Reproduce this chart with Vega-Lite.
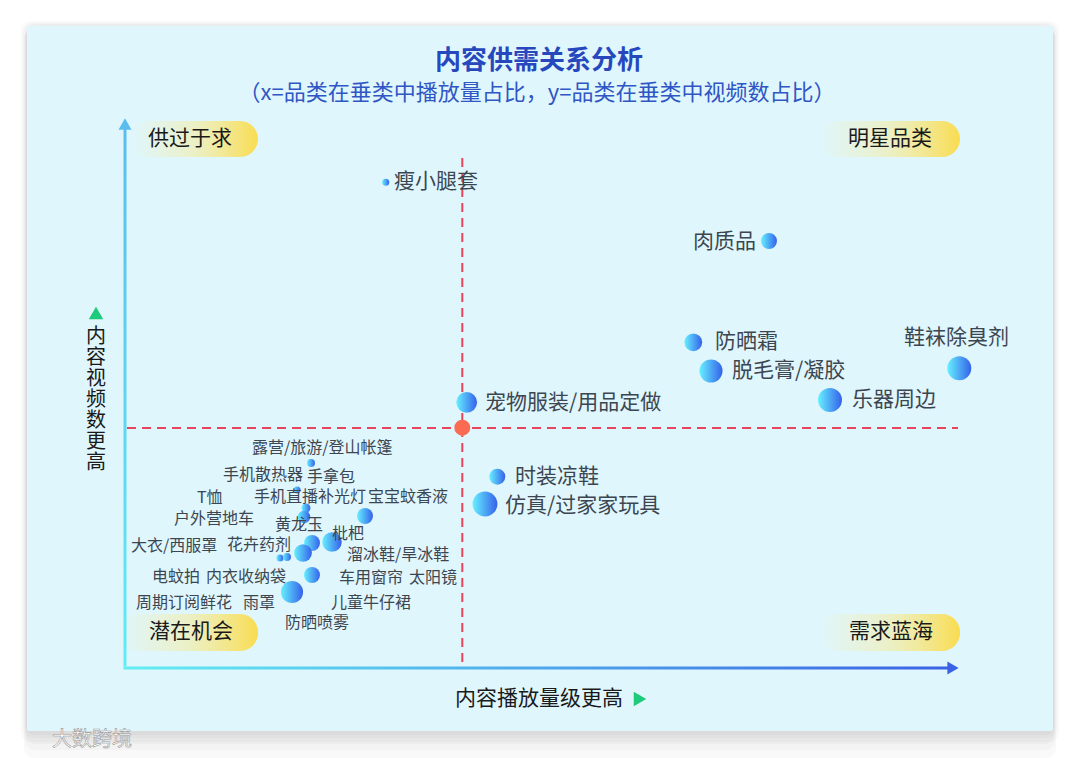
{
  "$schema": "https://vega.github.io/schema/vega-lite/v6.json",
  "width": 1080,
  "height": 758,
  "autosize": {"type": "fit", "contains": "padding"},
  "padding": 0,
  "background": "#ffffff",
  "config": {"view": {"stroke": null}, "font": "Noto Sans CJK SC"},
  "datasets": {
    "shadow": [
      {"x": -10.4, "x2": 93.4, "y": 64.7, "y2": -7.4},
      {"x": -10.2, "x2": 93.2, "y": 64.5, "y2": -7.0},
      {"x": -10.0, "x2": 93.0, "y": 64.4, "y2": -6.7},
      {"x": -10.1, "x2": 93.1, "y": 64.0, "y2": -9.0},
      {"x": -10.0, "x2": 93.0, "y": 64.0, "y2": -8.2},
      {"x": -9.9, "x2": 92.9, "y": 64.0, "y2": -7.6}
    ],
    "panel": [{"x": -9.8, "x2": 92.8, "y": 64.2, "y2": -6.3}],
    "pills": [
      {"name": "供过于求", "x": 0.5, "x2": 13.3, "y": 54.7, "y2": 51.1, "lx": 2.3, "ly": 52.9},
      {"name": "明星品类", "x": 69.3, "x2": 83.5, "y": 54.7, "y2": 51.1, "lx": 72.3, "ly": 52.9},
      {"name": "潜在机会", "x": -0.7, "x2": 13.3, "y": 5.4, "y2": 1.7, "lx": 2.4, "ly": 3.6},
      {"name": "需求蓝海", "x": 69.3, "x2": 83.5, "y": 5.4, "y2": 1.7, "lx": 72.4, "ly": 3.6}
    ],
    "bubbles": [
      {"name": "瘦小腿套", "x": 26.07, "y": 48.57, "r": 4, "lx": 26.9, "ly": 48.6},
      {"name": "肉质品", "x": 64.4, "y": 42.7, "r": 9, "lx": 56.8, "ly": 42.6},
      {"name": "防晒霜", "x": 56.83, "y": 32.57, "r": 10, "lx": 59.0, "ly": 32.6},
      {"name": "脱毛膏/凝胶", "x": 58.6, "y": 29.7, "r": 13, "lx": 60.7, "ly": 29.7},
      {"name": "鞋袜除臭剂", "x": 83.43, "y": 29.97, "r": 13.5, "lx": 77.9, "ly": 33.0},
      {"name": "乐器周边", "x": 70.5, "y": 26.8, "r": 13.5, "lx": 72.7, "ly": 26.8},
      {"name": "宠物服装/用品定做", "x": 34.17, "y": 26.57, "r": 11.7, "lx": 36.0, "ly": 26.5},
      {"name": "时装凉鞋", "x": 37.23, "y": 19.13, "r": 9, "lx": 39.0, "ly": 19.1},
      {"name": "仿真/过家家玩具", "x": 36.0, "y": 16.4, "r": 14, "lx": 38.0, "ly": 16.2},
      {"name": "露营/旅游/登山帐篷", "x": 18.6, "y": 20.5, "r": 4.5, "lx": 12.7, "ly": 22.0},
      {"name": "手机散热器", "x": 17.2, "y": 17.8, "r": 4, "lx": 9.8, "ly": 19.3},
      {"name": "手拿包", "x": 17.2, "y": 17.8, "r": 3, "lx": 18.2, "ly": 19.1},
      {"name": "T恤", "x": 18.1, "y": 16.0, "r": 5, "lx": 7.2, "ly": 17.0},
      {"name": "手机直播补光灯", "x": 17.9, "y": 15.1, "r": 7, "lx": 12.9, "ly": 17.1},
      {"name": "宝宝蚊香液", "x": 24.0, "y": 15.2, "r": 9, "lx": 24.3, "ly": 17.1},
      {"name": "户外营地车", "x": 18.0, "y": 15.4, "r": 4, "lx": 4.9, "ly": 14.9},
      {"name": "黄龙玉", "x": 18.7, "y": 12.5, "r": 9, "lx": 15.0, "ly": 14.3},
      {"name": "枇杷", "x": 20.7, "y": 12.6, "r": 11, "lx": 20.7, "ly": 13.4},
      {"name": "大衣/西服罩", "x": 15.5, "y": 11.0, "r": 4, "lx": 0.6, "ly": 12.2},
      {"name": "花卉药剂", "x": 16.2, "y": 11.1, "r": 4.5, "lx": 10.2, "ly": 12.3},
      {"name": "溜冰鞋/旱冰鞋", "x": 20.7, "y": 12.6, "r": 7, "lx": 22.2, "ly": 11.3},
      {"name": "电蚊拍", "x": 17.8, "y": 11.5, "r": 10, "lx": 2.7, "ly": 9.1},
      {"name": "内衣收纳袋", "x": 18.7, "y": 9.3, "r": 9, "lx": 8.1, "ly": 9.1},
      {"name": "车用窗帘", "x": 18.7, "y": 9.3, "r": 6, "lx": 21.4, "ly": 9.0},
      {"name": "太阳镜", "x": 18.7, "y": 12.5, "r": 6, "lx": 28.4, "ly": 9.0},
      {"name": "周期订阅鲜花", "x": 16.7, "y": 7.6, "r": 12.5, "lx": 1.1, "ly": 6.5},
      {"name": "雨罩", "x": 16.7, "y": 7.6, "r": 8, "lx": 11.8, "ly": 6.5},
      {"name": "儿童牛仔裙", "x": 16.7, "y": 7.6, "r": 7, "lx": 20.6, "ly": 6.5},
      {"name": "防晒喷雾", "x": 16.7, "y": 7.6, "r": 6, "lx": 16.0, "ly": 4.5}
    ]
  },
  "layer": [
    {
      "data": {"name": "shadow"},
      "mark": {"type": "rect", "fill": "#000000", "opacity": 0.022, "cornerRadius": 10},
      "encoding": {
        "x": {"field": "x", "type": "quantitative", "scale": {"domain": [-12.5, 95.5], "nice": false, "zero": false}, "axis": null},
        "x2": {"field": "x2"},
        "y": {"field": "y", "type": "quantitative", "scale": {"domain": [-9, 66.8], "nice": false, "zero": false}, "axis": null},
        "y2": {"field": "y2"}
      }
    },
    {
      "data": {"name": "panel"},
      "mark": {"type": "rect", "fill": "#dff6fd", "cornerRadius": 2},
      "encoding": {
        "x": {"field": "x", "type": "quantitative", "scale": {"domain": [-12.5, 95.5], "nice": false, "zero": false}, "axis": null},
        "x2": {"field": "x2"},
        "y": {"field": "y", "type": "quantitative", "scale": {"domain": [-9, 66.8], "nice": false, "zero": false}, "axis": null},
        "y2": {"field": "y2"}
      }
    },
    {
      "data": {"name": "pills"},
      "mark": {
        "type": "rect",
        "cornerRadius": 18,
        "fill": {"gradient": "linear", "x1": 0, "y1": 0, "x2": 1, "y2": 0,
          "stops": [
            {"offset": 0, "color": "rgba(252,236,140,0)"},
            {"offset": 0.5, "color": "rgba(250,232,130,0.45)"},
            {"offset": 1, "color": "rgba(249,220,80,1)"}
          ]}
      },
      "encoding": {
        "x": {"field": "x", "type": "quantitative", "scale": {"domain": [-12.5, 95.5], "nice": false, "zero": false}, "axis": null},
        "x2": {"field": "x2"},
        "y": {"field": "y", "type": "quantitative", "scale": {"domain": [-9, 66.8], "nice": false, "zero": false}, "axis": null},
        "y2": {"field": "y2"}
      }
    },
    {
      "data": {"name": "pills"},
      "mark": {"type": "text", "align": "left", "baseline": "middle", "fontSize": 21, "fill": "#1a1a1a"},
      "encoding": {
        "x": {"field": "lx", "type": "quantitative", "scale": {"domain": [-12.5, 95.5], "nice": false, "zero": false}, "axis": null},
        "y": {"field": "ly", "type": "quantitative", "scale": {"domain": [-9, 66.8], "nice": false, "zero": false}, "axis": null},
        "text": {"field": "name"}
      }
    },
    {
      "data": {"values": [{"x": -0.15, "x2": 0.15, "y": 0.15, "y2": 54.2}]},
      "mark": {
        "type": "rect",
        "fill": {"gradient": "linear", "x1": 0, "y1": 1, "x2": 0, "y2": 0,
          "stops": [{"offset": 0, "color": "#62ecf4"}, {"offset": 1, "color": "#5bbdee"}]}
      },
      "encoding": {
        "x": {"field": "x", "type": "quantitative", "scale": {"domain": [-12.5, 95.5], "nice": false, "zero": false}, "axis": null},
        "x2": {"field": "x2"},
        "y": {"field": "y", "type": "quantitative", "scale": {"domain": [-9, 66.8], "nice": false, "zero": false}, "axis": null},
        "y2": {"field": "y2"}
      }
    },
    {
      "data": {"values": [{"x": -0.15, "x2": 82.4, "y": 0.15, "y2": -0.15}]},
      "mark": {
        "type": "rect",
        "fill": {"gradient": "linear", "x1": 0, "y1": 0, "x2": 1, "y2": 0,
          "stops": [{"offset": 0, "color": "#62eef2"}, {"offset": 1, "color": "#3b62e4"}]}
      },
      "encoding": {
        "x": {"field": "x", "type": "quantitative", "scale": {"domain": [-12.5, 95.5], "nice": false, "zero": false}, "axis": null},
        "x2": {"field": "x2"},
        "y": {"field": "y", "type": "quantitative", "scale": {"domain": [-9, 66.8], "nice": false, "zero": false}, "axis": null},
        "y2": {"field": "y2"}
      }
    },
    {
      "data": {"values": [{"x": 0, "y": 54.4}]},
      "mark": {"type": "point", "shape": "triangle-up", "filled": true, "opacity": 1, "size": 169, "fill": "#5bbdee", "strokeWidth": 0},
      "encoding": {
        "x": {"field": "x", "type": "quantitative", "scale": {"domain": [-12.5, 95.5], "nice": false, "zero": false}, "axis": null},
        "y": {"field": "y", "type": "quantitative", "scale": {"domain": [-9, 66.8], "nice": false, "zero": false}, "axis": null}
      }
    },
    {
      "data": {"values": [{"x": 82.8, "y": 0}]},
      "mark": {"type": "point", "shape": "triangle-right", "filled": true, "opacity": 1, "size": 169, "fill": "#3b62e4", "strokeWidth": 0},
      "encoding": {
        "x": {"field": "x", "type": "quantitative", "scale": {"domain": [-12.5, 95.5], "nice": false, "zero": false}, "axis": null},
        "y": {"field": "y", "type": "quantitative", "scale": {"domain": [-9, 66.8], "nice": false, "zero": false}, "axis": null}
      }
    },
    {
      "data": {"values": [{"x": 0.2, "x2": 83.3, "y": 24.0}]},
      "mark": {"type": "rule", "stroke": "#e8445c", "strokeWidth": 2, "strokeDash": [9, 6]},
      "encoding": {
        "x": {"field": "x", "type": "quantitative", "scale": {"domain": [-12.5, 95.5], "nice": false, "zero": false}, "axis": null},
        "x2": {"field": "x2"},
        "y": {"field": "y", "type": "quantitative", "scale": {"domain": [-9, 66.8], "nice": false, "zero": false}, "axis": null}
      }
    },
    {
      "data": {"values": [{"x": 33.73, "y": 51.0, "y2": 0.2}]},
      "mark": {"type": "rule", "stroke": "#e8445c", "strokeWidth": 2, "strokeDash": [9, 6]},
      "encoding": {
        "x": {"field": "x", "type": "quantitative", "scale": {"domain": [-12.5, 95.5], "nice": false, "zero": false}, "axis": null},
        "y": {"field": "y", "type": "quantitative", "scale": {"domain": [-9, 66.8], "nice": false, "zero": false}, "axis": null},
        "y2": {"field": "y2"}
      }
    },
    {
      "data": {"name": "bubbles"},
      "mark": {
        "type": "point", "shape": "circle", "filled": true, "opacity": 1, "strokeWidth": 0,
        "fill": {"gradient": "linear", "x1": 0, "y1": 0, "x2": 1, "y2": 0,
          "stops": [{"offset": 0, "color": "#66f0ff"}, {"offset": 1, "color": "#3461ea"}]}
      },
      "encoding": {
        "x": {"field": "x", "type": "quantitative", "scale": {"domain": [-12.5, 95.5], "nice": false, "zero": false}, "axis": null},
        "y": {"field": "y", "type": "quantitative", "scale": {"domain": [-9, 66.8], "nice": false, "zero": false}, "axis": null},
        "size": {"field": "r", "type": "quantitative", "scale": {"type": "pow", "exponent": 2, "domain": [0, 15], "range": [0, 706.86]}, "legend": null},
        "order": {"field": "r", "type": "quantitative", "sort": "ascending"}
      }
    },
    {
      "data": {"values": [{"x": 33.73, "y": 24.03}]},
      "mark": {"type": "point", "shape": "circle", "filled": true, "opacity": 1, "size": 254, "fill": "#fb6a52", "strokeWidth": 0},
      "encoding": {
        "x": {"field": "x", "type": "quantitative", "scale": {"domain": [-12.5, 95.5], "nice": false, "zero": false}, "axis": null},
        "y": {"field": "y", "type": "quantitative", "scale": {"domain": [-9, 66.8], "nice": false, "zero": false}, "axis": null}
      }
    },
    {
      "data": {"name": "bubbles"},
      "transform": [{"filter": "!(datum.x < 33.7 && datum.y < 24)"}],
      "mark": {"type": "text", "align": "left", "baseline": "middle", "fontSize": 21, "fill": "#3d4650"},
      "encoding": {
        "x": {"field": "lx", "type": "quantitative", "scale": {"domain": [-12.5, 95.5], "nice": false, "zero": false}, "axis": null},
        "y": {"field": "ly", "type": "quantitative", "scale": {"domain": [-9, 66.8], "nice": false, "zero": false}, "axis": null},
        "text": {"field": "name"}
      }
    },
    {
      "data": {"name": "bubbles"},
      "transform": [{"filter": "datum.x < 33.7 && datum.y < 24"}],
      "mark": {"type": "text", "align": "left", "baseline": "middle", "fontSize": 16, "fill": "#3d4650"},
      "encoding": {
        "x": {"field": "lx", "type": "quantitative", "scale": {"domain": [-12.5, 95.5], "nice": false, "zero": false}, "axis": null},
        "y": {"field": "ly", "type": "quantitative", "scale": {"domain": [-9, 66.8], "nice": false, "zero": false}, "axis": null},
        "text": {"field": "name"}
      }
    },
    {
      "data": {"values": [{"text": "内容供需关系分析", "x": 41.4, "y": 60.7}]},
      "mark": {"type": "text", "align": "center", "baseline": "middle", "fontSize": 26, "fontWeight": "bold", "fill": "#2748bd"},
      "encoding": {
        "x": {"field": "x", "type": "quantitative", "scale": {"domain": [-12.5, 95.5], "nice": false, "zero": false}, "axis": null},
        "y": {"field": "y", "type": "quantitative", "scale": {"domain": [-9, 66.8], "nice": false, "zero": false}, "axis": null},
        "text": {"field": "text"}
      }
    },
    {
      "data": {"values": [{"text": "（x=品类在垂类中播放量占比，y=品类在垂类中视频数占比）", "x": 41.2, "y": 57.5}]},
      "mark": {"type": "text", "align": "center", "baseline": "middle", "fontSize": 22, "fill": "#2f56c4"},
      "encoding": {
        "x": {"field": "x", "type": "quantitative", "scale": {"domain": [-12.5, 95.5], "nice": false, "zero": false}, "axis": null},
        "y": {"field": "y", "type": "quantitative", "scale": {"domain": [-9, 66.8], "nice": false, "zero": false}, "axis": null},
        "text": {"field": "text"}
      }
    },
    {
      "data": {"values": [{"text": "内容播放量级更高", "x": 33.0, "y": -3.1}]},
      "mark": {"type": "text", "align": "left", "baseline": "middle", "fontSize": 21, "fill": "#1a1a1a"},
      "encoding": {
        "x": {"field": "x", "type": "quantitative", "scale": {"domain": [-12.5, 95.5], "nice": false, "zero": false}, "axis": null},
        "y": {"field": "y", "type": "quantitative", "scale": {"domain": [-9, 66.8], "nice": false, "zero": false}, "axis": null},
        "text": {"field": "text"}
      }
    },
    {
      "data": {"values": [{"text": "内\n容\n视\n频\n数\n更\n高", "x": -2.9, "y": 33.1}]},
      "mark": {"type": "text", "align": "center", "baseline": "middle", "fontSize": 20, "lineHeight": 21, "lineBreak": "\n", "fill": "#1a1a1a"},
      "encoding": {
        "x": {"field": "x", "type": "quantitative", "scale": {"domain": [-12.5, 95.5], "nice": false, "zero": false}, "axis": null},
        "y": {"field": "y", "type": "quantitative", "scale": {"domain": [-9, 66.8], "nice": false, "zero": false}, "axis": null},
        "text": {"field": "text"}
      }
    },
    {
      "data": {"values": [{"x": 51.5, "y": -3.1}]},
      "mark": {"type": "point", "shape": "triangle-right", "filled": true, "opacity": 1, "size": 210, "fill": "#1ecb7a", "strokeWidth": 0},
      "encoding": {
        "x": {"field": "x", "type": "quantitative", "scale": {"domain": [-12.5, 95.5], "nice": false, "zero": false}, "axis": null},
        "y": {"field": "y", "type": "quantitative", "scale": {"domain": [-9, 66.8], "nice": false, "zero": false}, "axis": null}
      }
    },
    {
      "data": {"values": [{"x": -2.9, "y": 35.5}]},
      "mark": {"type": "point", "shape": "triangle-up", "filled": true, "opacity": 1, "size": 210, "fill": "#1ecb7a", "strokeWidth": 0},
      "encoding": {
        "x": {"field": "x", "type": "quantitative", "scale": {"domain": [-12.5, 95.5], "nice": false, "zero": false}, "axis": null},
        "y": {"field": "y", "type": "quantitative", "scale": {"domain": [-9, 66.8], "nice": false, "zero": false}, "axis": null}
      }
    },
    {
      "data": {"values": [{"text": "大数跨境", "x": -7.3, "y": -7.2}]},
      "mark": {"type": "text", "align": "left", "baseline": "middle", "fontSize": 20, "fill": "#ffffff", "stroke": "#9a9a9a", "strokeWidth": 0.6},
      "encoding": {
        "x": {"field": "x", "type": "quantitative", "scale": {"domain": [-12.5, 95.5], "nice": false, "zero": false}, "axis": null},
        "y": {"field": "y", "type": "quantitative", "scale": {"domain": [-9, 66.8], "nice": false, "zero": false}, "axis": null},
        "text": {"field": "text"}
      }
    }
  ]
}
